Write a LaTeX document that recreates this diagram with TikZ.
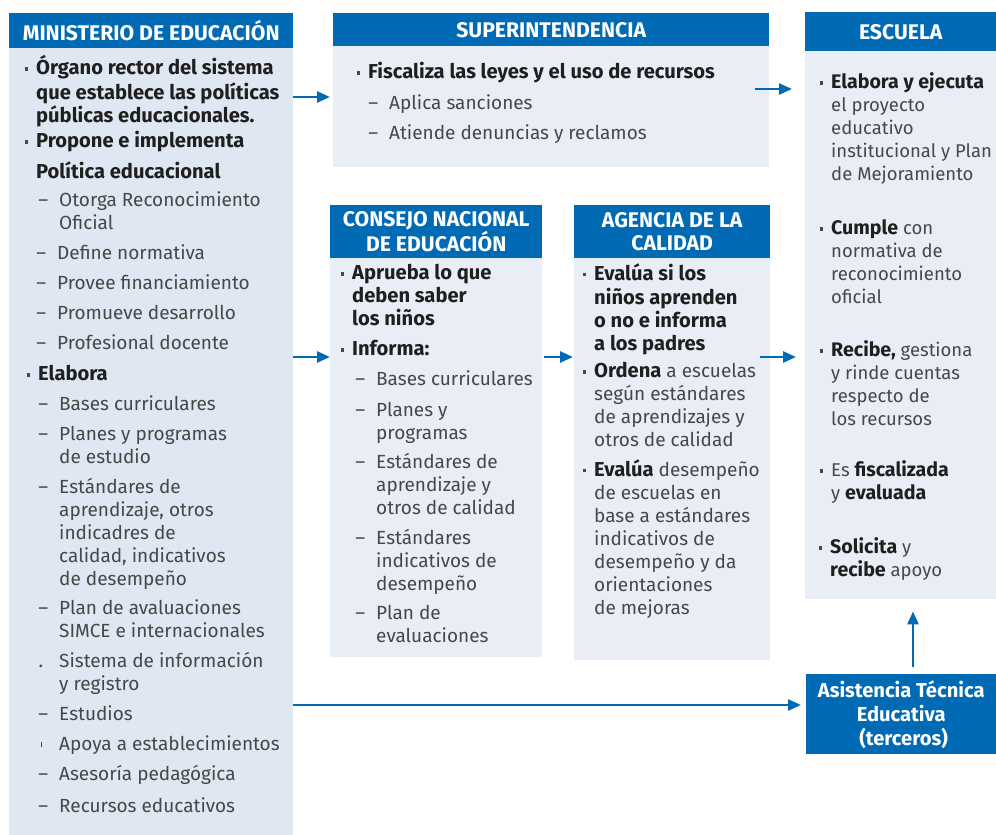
\documentclass[tikz,border=0pt]{standalone}
\usepackage{fontspec}
\setmainfont{Fira Sans}[BoldFeatures={Scale=1.06}]
\usepackage{tikz}
\usetikzlibrary{arrows.meta, positioning}

\definecolor{headblue}{HTML}{006AB4}
\definecolor{minfill}{HTML}{DFE7F3}
\definecolor{boxfill}{HTML}{E9EEF6}
\definecolor{soft}{HTML}{474747}

\newcommand{\bul}{\strut\llap{\raisebox{3.8pt}{\rule{3.6pt}{3.6pt}}\hspace{8pt}}}
\newcommand{\dsh}{\strut\llap{\textendash\hspace{11pt}}}
\newcommand{\bx}[1]{{\color{black!88}\textbf{#1}}}

\begin{document}
\begin{tikzpicture}[
  x=1pt, y=-1pt,
  head/.style={rectangle, fill=headblue, text=white, anchor=north west, inner sep=0, align=center, font=\fontsize{20}{23}\selectfont\bfseries},
  panel/.style={rectangle, fill=boxfill, anchor=north west, inner sep=0},
  item/.style={anchor=north west, inner sep=0, align=left, text=soft, font=\fontsize{19}{23}\selectfont},
  flow/.style={draw=headblue, line width=2.6pt, -{Triangle[length=13pt,width=11pt]}}
]
\useasboundingbox (0,0) rectangle (996,835);

% boxes
\node[panel, fill=minfill, minimum width=284, minimum height=787] (minbody) at (9,48) {};
\node[head, minimum width=284, minimum height=35] (minhead) at (9,13) {MINISTERIO DE EDUCACIÓN};
\node[panel, minimum width=436, minimum height=121] (supbody) at (333,46) {};
\node[head, minimum width=436, minimum height=33] (suphead) at (333,13) {SUPERINTENDENCIA};
\node[panel, minimum width=212, minimum height=399] (conbody) at (330,258) {};
\node[head, minimum width=212, minimum height=53] (conhead) at (330,205) {CONSEJO NACIONAL\\DE EDUCACIÓN};
\node[panel, minimum width=196, minimum height=402] (agebody) at (574,258) {};
\node[head, minimum width=196, minimum height=53] (agehead) at (574,205) {AGENCIA DE LA\\CALIDAD};
\node[panel, minimum width=191, minimum height=548] (escbody) at (805,51) {};
\node[head, minimum width=191, minimum height=39] (eschead) at (805,12) {ESCUELA};
\node[head, minimum width=190, minimum height=80, font=\fontsize{19}{24}\selectfont\bfseries] (asis) at (806,674) {Asistencia Técnica\\Educativa\\\ (terceros)};

% ministerio
\node[item] (m1) at (36,55) {\bul\bx{Órgano rector del sistema}\\\bx{que establece las políticas}\\\bx{públicas educacionales.}};
\node[item] (m2) at (36,131) {\bul\bx{Propone e implementa}\\[6pt]\bx{Política educacional}};
\node[item] (m3) at (59,190) {\dsh Otorga Reconocimiento\\Oficial};
\foreach \txt [count=\i] in {Define normativa, Provee financiamiento, Promueve desarrollo, Profesional docente}
  \node[item] (md\i) at (57,{213+30*\i}) {\dsh \txt};
\node[item] (m4) at (38,364) {\bul\bx{Elabora}};
\node[item] (m5) at (59,394) {\dsh Bases curriculares};
\node[item] (m6) at (59,424) {\dsh Planes y programas\\de estudio};
\node[item] (m7) at (59,477) {\dsh Estándares de\\aprendizaje, otros\\indicadres de\\calidad, indicativos\\de desempeño};
\node[item] (m8) at (59,598) {\dsh Plan de avaluaciones\\SIMCE e internacionales};
\node[item] (m9) at (59,651) {\strut\llap{.\hspace{16pt}}Sistema de información\\y registro};
\node[item] (m10) at (59,704) {\dsh Estudios};
\node[item] (m11) at (59,734) {\strut\llap{\rule[3pt]{1.6pt}{5pt}\hspace{17pt}}Apoya a establecimientos};
\node[item] (m12) at (59,764) {\dsh Asesoría pedagógica};
\node[item] (m13) at (59,796) {\dsh Recursos educativos};

% superintendencia
\node[item] (s1) at (368,62) {\bul\bx{Fiscaliza las leyes y el uso de recursos}};
\node[item] (s2) at (389,93) {\dsh Aplica sanciones\\[7pt]\dsh Atiende denuncias y reclamos};

% consejo
\node[item] (c1) at (352,263) {\bul\bx{Aprueba lo que}\\\bx{deben saber}\\\bx{los niños}};
\node[item] (c2) at (352,339) {\bul\bx{Informa:}};
\node[item] (c3) at (376,369) {\dsh Bases curriculares};
\node[item] (c4) at (376,400) {\dsh Planes y\\programas};
\node[item] (c5) at (376,452) {\dsh Estándares de\\aprendizaje y\\otros de calidad};
\node[item] (c6) at (376,528) {\dsh Estándares\\indicativos de\\desempeño};
\node[item] (c7) at (376,603) {\dsh Plan de\\evaluaciones};

% agencia
\node[item] (a1) at (594,263) {\bul\bx{Evalúa si los}\\\bx{niños aprenden}\\\bx{o no e informa}\\\bx{a los padres}};
\node[item] (a2) at (594,361) {\bul\bx{Ordena} a escuelas\\según estándares\\de aprendizajes y\\otros de calidad};
\node[item] (a3) at (594,459) {\bul\bx{Evalúa} desempeño\\de escuelas en\\base a estándares\\indicativos de\\desempeño y da\\orientaciones\\de mejoras};

% escuela
\tikzset{item/.append style={font=\fontsize{18.5}{23}\selectfont}}
\node[item] (e1) at (831,72) {\bul\bx{Elabora y ejecuta}\\el proyecto\\educativo\\institucional y Plan\\de Mejoramiento};
\node[item] (e2) at (831,218) {\bul\bx{Cumple} con\\normativa de\\reconocimiento\\oficial};
\node[item] (e3) at (831,340) {\bul\bx{Recibe,} gestiona\\y rinde cuentas\\respecto de\\los recursos};
\node[item] (e4) at (831,460) {\bul Es \bx{fiscalizada}\\y \bx{evaluada}};
\node[item] (e5) at (830,537) {\bul\bx{Solicita} y\\\bx{recibe} apoyo};

% connectors
\coordinate (r0) at (0,89);
\coordinate (r1) at (0,97);
\coordinate (r2) at (0,357);
\coordinate (r3) at (0,705);
\coordinate (k1) at (913,0);
\draw[flow, shorten >=3pt] (minbody.east |- r1) -- (supbody.west |- r1);
\draw[flow, shorten <=-14pt, shorten >=13pt] (supbody.east |- r0) -- (escbody.west |- r0);
\draw[flow] (minbody.east |- r2) -- (conbody.west |- r2);
\draw[flow, shorten <=2pt, shorten >=1pt] (conbody.east |- r2) -- (agebody.west |- r2);
\draw[flow, shorten <=-10pt, shorten >=9pt] (agebody.east |- r2) -- (escbody.west |- r2);
\draw[flow, shorten >=5pt] (minbody.east |- r3) -- (asis.west |- r3);
\draw[flow, shorten <=7pt, shorten >=12pt] (asis.north -| k1) -- (escbody.south -| k1);
\end{tikzpicture}
\end{document}
